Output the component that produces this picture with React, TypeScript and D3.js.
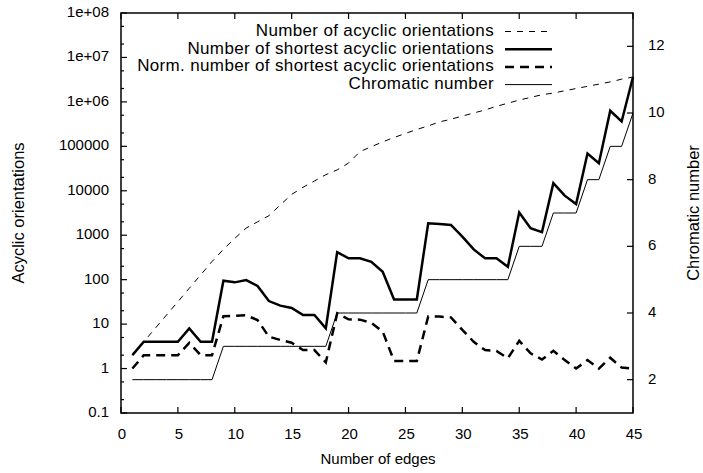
import { useEffect, useRef } from 'react'
import * as d3 from 'd3'

const edges = [
  1, 2, 3, 4, 5, 6, 7, 8, 9, 10, 11, 12, 13, 14, 15, 16, 17, 18, 19, 20, 21, 22, 23,
  24, 25, 26, 27, 28, 29, 30, 31, 32, 33, 34, 35, 36, 37, 38, 39, 40, 41, 42, 43, 44, 45,
]

const acyclic = [
  2, 4, 8, 16, 32, 64, 128, 256, 480, 850, 1450, 2000, 2750, 4800, 8300, 12000, 16600,
  23000, 29500, 42000, 76000, 98000, 126000, 158000, 195000, 240000, 288000, 355000,
  407000, 480000, 562000, 660000, 795000, 933000, 1100000, 1260000, 1450000, 1580000,
  1780000, 2000000, 2240000, 2510000, 2820000, 3240000, 3628800,
]

const shortest = [
  2, 4, 4, 4, 4, 8, 4, 4, 95, 87, 98, 72, 33, 26, 23, 16, 16, 8, 417, 302, 302, 251, 151,
  36, 36, 36, 1860, 1780, 1700, 933, 479, 302, 302, 195, 3240, 1445, 1175, 14800, 7760,
  5040, 69000, 41700, 631000, 362880, 3628800,
]

const normShortest = [
  1, 2, 2, 2, 2, 3.8, 2, 2, 15, 15.4, 15.8, 12.3, 5.2, 4.4, 3.8, 2.6, 2.6, 1.38, 17.4,
  12.8, 12.6, 10.7, 6.8, 1.48, 1.48, 1.48, 14.8, 14.8, 14.1, 7.4, 4.0, 2.6, 2.5, 1.7,
  4.2, 2.2, 1.6, 2.5, 1.55, 1.0, 1.55, 1.0, 1.75, 1.05, 1.0,
]

const chromatic = [
  2, 2, 2, 2, 2, 2, 2, 2, 3, 3, 3, 3, 3, 3, 3, 3, 3, 3, 4, 4, 4, 4, 4, 4, 4, 4, 5, 5, 5,
  5, 5, 5, 5, 5, 6, 6, 6, 7, 7, 7, 8, 8, 9, 9, 10,
]

const xTicks = [0, 5, 10, 15, 20, 25, 30, 35, 40, 45]
const yTicks = [0.1, 1, 10, 100, 1000, 10000, 100000, 1e6, 1e7, 1e8]
const yTickLabels = ['0.1', '1', '10', '100', '1000', '10000', '100000', '1e+06', '1e+07', '1e+08']
const y2Ticks = [2, 4, 6, 8, 10, 12]

const FONT = 'Liberation Sans, Arial, Helvetica, sans-serif'

export default function App() {
  const svgRef = useRef<SVGSVGElement>(null)

  useEffect(() => {
    if (!svgRef.current) return
    const svg = d3.select(svgRef.current)
    svg.selectAll('*').remove()

    const left = 121, right = 633, top = 13, bottom = 413

    const x = d3.scaleLinear().domain([0, 45]).range([left, right])
    const y = d3.scaleLog().domain([0.1, 1e8]).range([bottom, top])
    const y2 = d3.scaleLinear().domain([1, 13]).range([bottom, top])

    svg.append('rect').attr('width', 703).attr('height', 473).attr('fill', '#fff')

    const g = svg.append('g').attr('font-family', FONT).attr('font-size', 15).attr('fill', '#000')

    // series
    const lineLog = (vals: number[]) =>
      d3.line<number>().x((_, i) => x(edges[i])).y(d => y(d))(vals) || ''
    const lineChrom = d3.line<number>().x((_, i) => x(edges[i])).y(d => y2(d))(chromatic) || ''

    const series = [
      { d: lineLog(acyclic), w: 1, dash: '6,6', label: 'Number of acyclic orientations' },
      { d: lineLog(shortest), w: 2.5, dash: null, label: 'Number of shortest acyclic orientations' },
      { d: lineLog(normShortest), w: 2.5, dash: '9,6', label: 'Norm. number of shortest acyclic orientations' },
      { d: lineChrom, w: 1, dash: null, label: 'Chromatic number' },
    ]

    series.forEach(s => {
      const p = g.append('path')
        .attr('d', s.d)
        .attr('fill', 'none')
        .attr('stroke', '#000')
        .attr('stroke-width', s.w)
        .attr('stroke-linejoin', 'miter')
      if (s.dash) p.attr('stroke-dasharray', s.dash)
    })

    // legend
    series.forEach((s, i) => {
      const ly = 31.5 + i * 17.7
      g.append('text')
        .attr('x', 494)
        .attr('y', ly)
        .attr('text-anchor', 'end')
        .attr('dominant-baseline', 'middle')
        .attr('font-size', 17)
        .attr('letter-spacing', 0.35)
        .text(s.label)
      const l = g.append('line')
        .attr('x1', 505).attr('x2', 552)
        .attr('y1', ly).attr('y2', ly)
        .attr('stroke', '#000')
        .attr('stroke-width', s.w)
      if (s.dash) l.attr('stroke-dasharray', s.dash)
    })

    // frame
    g.append('rect')
      .attr('x', left).attr('y', top)
      .attr('width', right - left).attr('height', bottom - top)
      .attr('fill', 'none')
      .attr('stroke', '#000')
      .attr('stroke-width', 1.5)

    const tick = (x1: number, y1: number, x2: number, y2v: number) =>
      g.append('line')
        .attr('x1', x1).attr('y1', y1).attr('x2', x2).attr('y2', y2v)
        .attr('stroke', '#000').attr('stroke-width', 1.2)

    // x ticks bottom + top mirror
    xTicks.forEach(t => {
      tick(x(t), bottom, x(t), bottom - 6)
      tick(x(t), top, x(t), top + 6)
      g.append('text')
        .attr('x', x(t) + 1)
        .attr('y', 435)
        .attr('text-anchor', 'middle')
        .attr('dominant-baseline', 'middle')
        .text(t)
    })

    // left log ticks
    yTicks.forEach((t, i) => {
      tick(left, y(t), left + 6, y(t))
      g.append('text')
        .attr('x', 109)
        .attr('y', y(t))
        .attr('text-anchor', 'end')
        .attr('dominant-baseline', 'middle')
        .text(yTickLabels[i])
      if (i < yTicks.length - 1) {
        ;[2, 5].forEach(m => tick(left, y(t * m), left + 3, y(t * m)))
      }
    })

    // right ticks
    y2Ticks.forEach(t => {
      tick(right, y2(t), right - 6, y2(t))
      g.append('text')
        .attr('x', 648)
        .attr('y', y2(t))
        .attr('dominant-baseline', 'middle')
        .text(t)
    })

    // axis titles
    g.append('text')
      .attr('x', (left + right) / 2 + 1)
      .attr('y', 460)
      .attr('text-anchor', 'middle')
      .attr('dominant-baseline', 'middle')
      .text('Number of edges')

    g.append('text')
      .attr('transform', `translate(20, ${(top + bottom) / 2}) rotate(-90)`)
      .attr('text-anchor', 'middle')
      .attr('dominant-baseline', 'middle')
      .attr('font-size', 16.5)
      .text('Acyclic orientations')

    g.append('text')
      .attr('transform', `translate(695, ${(top + bottom) / 2}) rotate(-90)`)
      .attr('text-anchor', 'middle')
      .attr('dominant-baseline', 'middle')
      .attr('font-size', 16.5)
      .text('Chromatic number')
  }, [])

  return (
    <svg
      ref={svgRef}
      width={703}
      height={473}
      style={{ position: 'absolute', left: 0, top: 0 }}
    />
  )
}
